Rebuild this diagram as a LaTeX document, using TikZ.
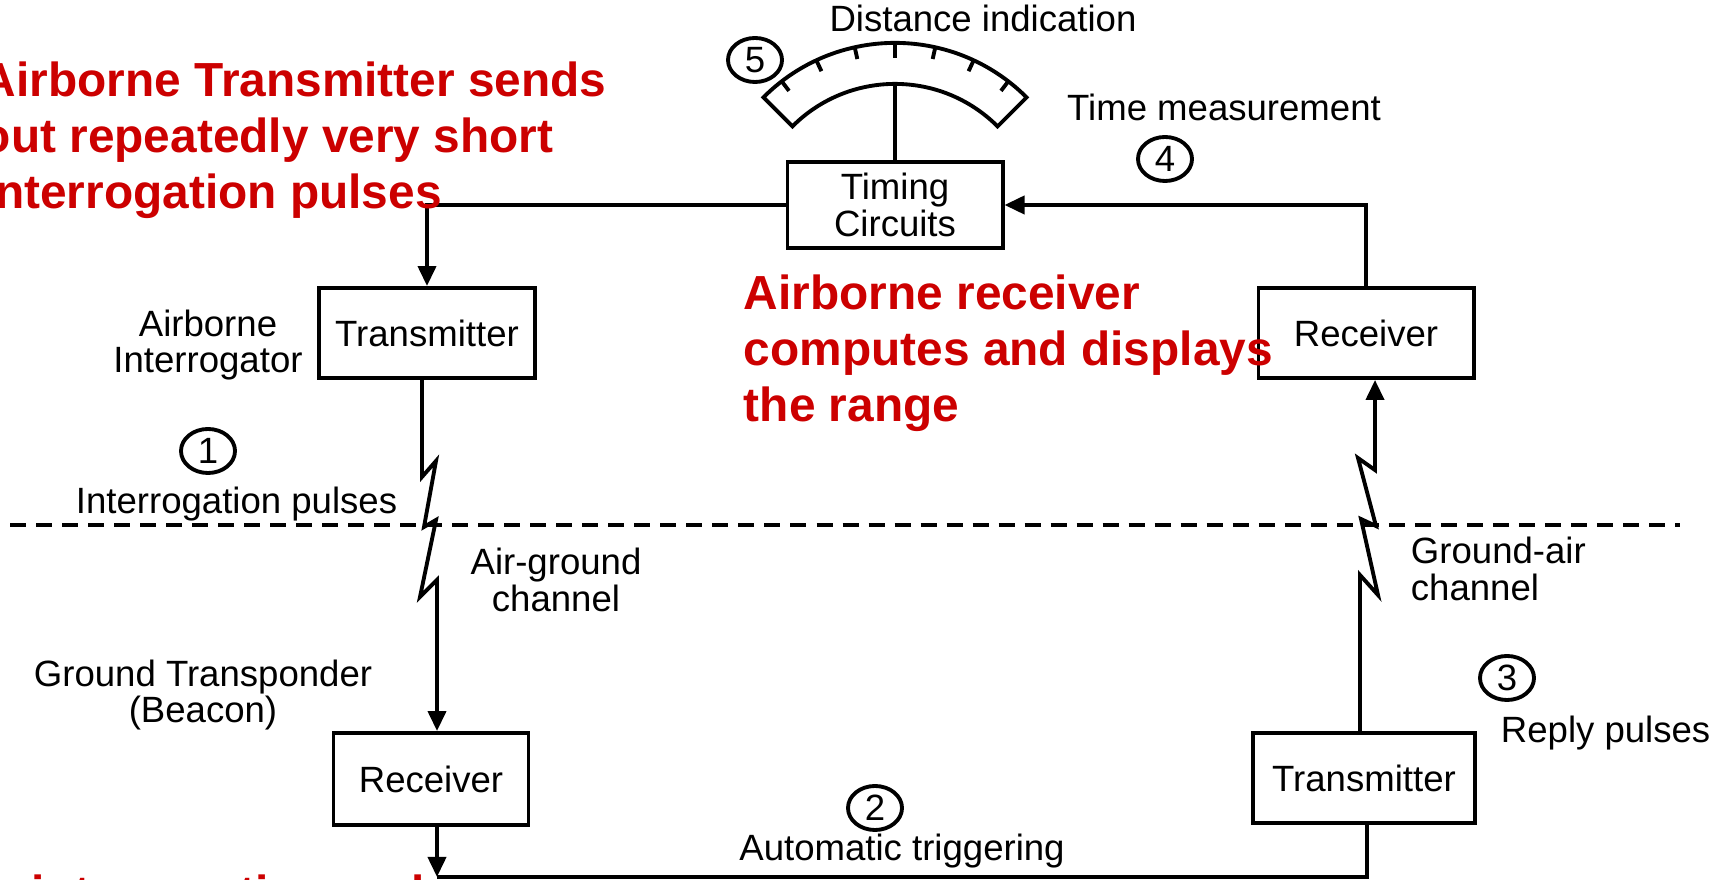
\documentclass[tikz,border=0pt]{standalone}
\usepackage{fontspec}
\setmainfont{Liberation Sans}
\usetikzlibrary{positioning,arrows.meta,shapes.geometric}
\definecolor{slred}{RGB}{204,0,0}

\begin{document}
\begin{tikzpicture}[x=0.01cm,y=-0.01cm,line width=1.1pt,>={Triangle[length=0.2cm,width=0.18cm]}]
\tikzstyle{blok}=[draw,rectangle,minimum width=2.15cm,minimum height=0.9cm,inner sep=0pt,align=center,font=\fontsize{10.4}{10.4}\selectfont]
\tikzstyle{num}=[draw,ellipse,minimum width=0.54cm,minimum height=0.44cm,inner sep=0pt,font=\fontsize{10.4}{10.4}\selectfont]
\tikzstyle{lbl}=[inner sep=0pt,align=center,font=\fontsize{10.4}{10.4}\selectfont]
\tikzstyle{note}=[inner sep=0pt,align=left,text=slred,font=\bfseries\fontsize{13.6}{15.9}\selectfont]
\useasboundingbox (0,0) rectangle (1715,880);
\clip (0,0) rectangle (1715,880);

% blocks
\node[blok,minimum height=0.86cm] (tc) at (895,205) {Timing\\Circuits};
\node[blok,minimum width=2.16cm] (atx) at (427,333) {Transmitter};
\node[blok] (arx) at (1366,333) {Receiver};
\node[blok,minimum width=1.95cm,minimum height=0.92cm] (grx) at (431,779) {Receiver};
\node[blok,minimum width=2.22cm] (gtx) at (1364,778) {Transmitter};

% distance dial
\coordinate (dc) at (895,229);
\coordinate (dp) at (895,84);
\draw[shift={(dc)}] (135:1.86cm) arc[start angle=135,end angle=45,radius=1.86cm]
  -- (45:1.45cm) arc[start angle=45,end angle=135,radius=1.45cm] -- cycle;
\foreach \a in {52.5,65,77.5,102.5,115,127.5}
  \draw[shift={(dc)}] (\a:1.86cm) -- (\a:1.74cm);
\draw[shift={(dc)}] (90:1.86cm) -- (90:1.71cm);
\draw (tc.north) -- (dp);

% air / ground border
\coordinate (dl) at (10,525);
\coordinate (dr) at (1680,525);
\draw[dash pattern=on 0.16cm off 0.1cm] (dl) -- (dr);

% loop
\draw[->] (tc.west) -| (atx.north);
\draw[->] (arx.north) |- (tc.east);
\draw[->] ([xshift=-0.05cm]atx.south) -- ++(0,97) -- ++(14,-16) -- ++(-12,66) -- ++(12,-7)
  -- ++(-16,77) -- ++(17,-17) -- ([xshift=0.06cm]grx.north);
\draw[->] ([xshift=-0.04cm]gtx.north) -- ++(0,-156) -- ++(18,20) -- ++(-17,-76) -- ++(15,7)
  -- ++(-18,-68) -- ++(17,12) -- ([xshift=0.09cm]arx.south);
\coordinate (cb) at (437,877);
\draw[->] ([xshift=0.06cm]grx.south) -- (cb);
\draw (cb) -| ([xshift=0.03cm]gtx.south);

% step numbers
\node[num] (c1) at (208,451) {1};
\node[num] (c2) at (875,808) {2};
\node[num] (c3) at (1507,678) {3};
\node[num] (c4) at (1165,159) {4};
\node[num] (c5) at (755,60) {5};

% labels
\node[lbl,anchor=base] (dist) at (983,32) {Distance indication};
\node[lbl,anchor=base] (tmeas) at (1224,121) {Time measurement};
\node[lbl] (airint) at (208,345) {Airborne\\Interrogator};
\node[lbl,anchor=base west] (ipul) at (74,514) {Interrogation pulses};
\node[lbl] (agch) at (556,580) {Air-ground\\channel};
\node[lbl] (gtrans) at (203,695) {Ground Transponder\\(Beacon)};
\node[lbl,align=left,anchor=west] (gach) at (1409,569) {Ground-air\\channel};
\node[lbl,anchor=base west] (rpul) at (1499,743) {Reply pulses};
\node[lbl,anchor=base] (atrig) at (902,861) {Automatic triggering};

% red notes
\node[note,anchor=north west] (red1) at (-20,60) {Airborne Transmitter sends\\out repeatedly very short\\interrogation pulses};
\node[note,anchor=north west] (red2) at (742,273) {Airborne receiver\\computes and displays\\the range};
\node[note,anchor=base west] (red3) at (30,910) {interrogation and};
\end{tikzpicture}
\end{document}
